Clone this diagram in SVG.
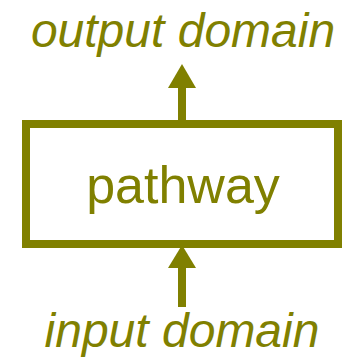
<svg xmlns="http://www.w3.org/2000/svg" width="342" height="357" viewBox="0 0 342 357">
  <style>
    .lbl { font-family: "Liberation Sans", Arial, sans-serif; fill: #808000; text-anchor: middle; }
    .dom { font-size: 48px; font-style: italic; }
    .box { fill: #ffffff; stroke: #808000; stroke-width: 8; }
    .wire { stroke: #808000; stroke-width: 8; fill: none; }
    .head { fill: #808000; }
  </style>
  <rect width="342" height="357" fill="#ffffff"/>
  <g id="connectors">
    <line class="wire" x1="182" y1="120" x2="182" y2="86"/>
    <polygon class="head" points="168,88 196,88 182,64"/>
    <line class="wire" x1="182" y1="307" x2="182" y2="266"/>
    <polygon class="head" points="168,268 196,268 182,245"/>
  </g>
  <g id="pathway">
    <rect class="box" x="26" y="124" width="312" height="120"/>
    <text class="lbl" x="183" y="203" font-size="52">pathway</text>
  </g>
  <g id="output-domain">
    <text class="lbl dom" x="183" y="47">output domain</text>
  </g>
  <g id="input-domain">
    <text class="lbl dom" x="182" y="347">input domain</text>
  </g>
</svg>
